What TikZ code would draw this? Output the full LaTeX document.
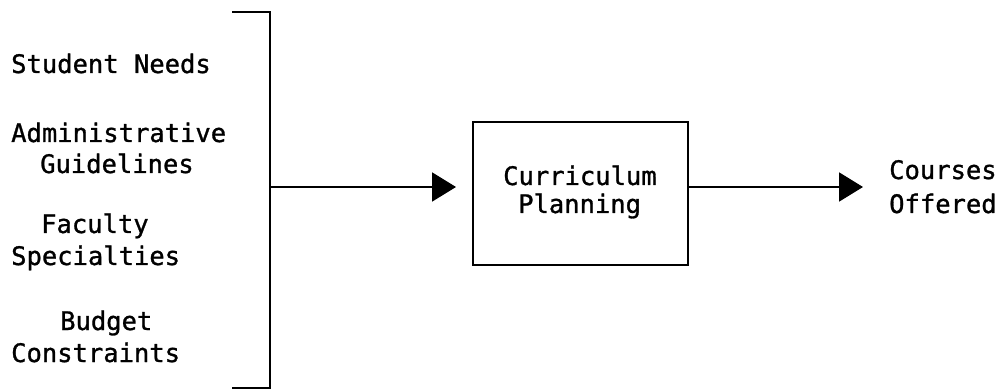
\documentclass[tikz,border=0pt]{standalone}
\usepackage{fontspec}
\setmonofont[FakeBold=1.1]{DejaVu Sans Mono}
\usetikzlibrary{arrows.meta}
\begin{document}
\begin{tikzpicture}[x=1pt,y=-1pt,
  txt/.style={font=\ttfamily\fontsize{25.5}{31}\selectfont, inner sep=0pt, anchor=base west},
  rule/.style={line width=2pt},
  flow/.style={rule, -{Triangle[length=24pt,width=29pt]}},
  plan/.style={rule, draw, minimum width=215pt, minimum height=143pt, inner sep=0pt}]
  \useasboundingbox (0,0) rectangle (999,390);

  % input factors
  \node[txt] (needs)  at (11,73)  {Student Needs};
  \node[txt] (admA)   at (11,142) {Administrative};
  \node[txt] (admB)   at (40,173) {Guidelines};
  \node[txt] (facA)   at (41,233) {Faculty};
  \node[txt] (facB)   at (11,265) {Specialties};
  \node[txt] (budA)   at (60,330) {Budget};
  \node[txt] (budB)   at (11,362) {Constraints};

  % bracket gathering the inputs
  \coordinate (brTop) at (232,12);
  \coordinate (brBot) at (232,388);
  \coordinate (join)  at (270,187);
  \draw[rule] (brTop) -- (270,12) -- (270,388) -- (brBot);

  % planning process
  \node[plan] (box) at (580.5,193.5) {};
  \node[txt] (curA) at (503,185) {Curriculum};
  \node[txt] (curB) at (518,213) {Planning};

  % output
  \node[txt] (outA) at (889,179) {Courses};
  \node[txt] (outB) at (889,213) {Offered};

  % flow arrows
  \draw[flow, shorten >=16pt] (join) -- (join -| box.west);
  \draw[flow, shorten >=26pt] (join -| box.east) -- (join -| outA.west);
\end{tikzpicture}
\end{document}
